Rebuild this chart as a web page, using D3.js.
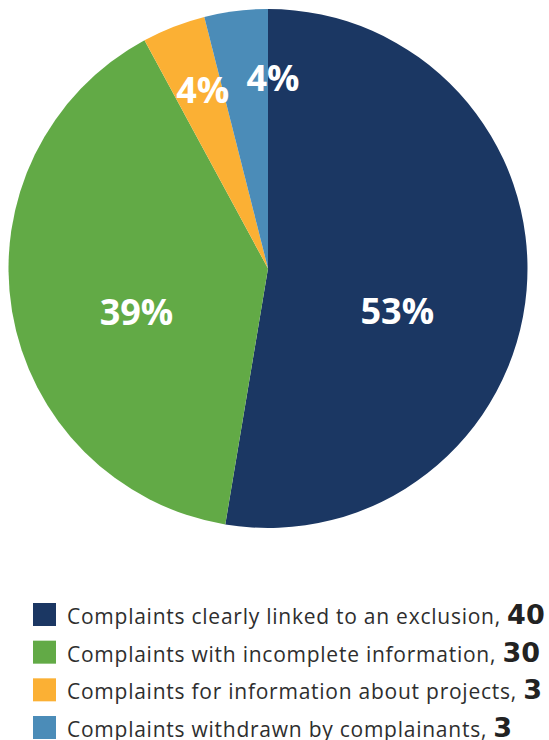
<!DOCTYPE html>
<html>
<head>
<meta charset="utf-8">
<script src="https://cdn.jsdelivr.net/npm/d3@7/dist/d3.min.js"></script>
<style>
  html, body { margin: 0; padding: 0; background: #fff; }
  svg { display: block; }
  .legend-text { font-family: "Open Sans", sans-serif; fill: #2e2e2e; letter-spacing: 0.75px; }
  .legend-num { font-family: "DejaVu Sans", sans-serif; font-weight: 700; fill: #222; letter-spacing: 0; }
  .pct { font-family: "Open Sans", sans-serif; font-weight: 700; fill: #fff; }
</style>
</head>
<body>
<svg id="chart" width="549" height="740"></svg>
<script>
// Complaint categories and counts
const categories = [
  "Complaints clearly linked to an exclusion",
  "Complaints with incomplete information",
  "Complaints for information about projects",
  "Complaints withdrawn by complainants"
];
const counts = [40, 30, 3, 3];
const percentLabels = ["53%", "39%", "4%", "4%"];
const colors = ["#1b3763", "#62aa46", "#fbb034", "#4b8cb8"];

// Label placement inside each slice: angle (deg, clockwise from 12 o'clock) and radius
const labelAngles = [108, 251.7, 340, 1.5];
const labelRadii = [136, 138.5, 191, 191];

const cx = 268, cy = 268.5, R = 259.5;

const svg = d3.select("#chart");
const g = svg.append("g").attr("transform", `translate(${cx},${cy})`);

const data = categories.map((c, i) => ({ name: c, value: counts[i], label: percentLabels[i], color: colors[i], i }));

const pie = d3.pie().value(d => d.value).sort(null);
const arc = d3.arc().innerRadius(0).outerRadius(R);

const arcs = pie(data);

g.selectAll("path.slice")
  .data(arcs)
  .join("path")
  .attr("class", "slice")
  .attr("d", arc)
  .attr("fill", d => d.data.color);

g.selectAll("text.pct")
  .data(arcs)
  .join("text")
  .attr("class", "pct")
  .attr("text-anchor", "middle")
  .attr("dominant-baseline", "central")
  .attr("font-size", 36)
  .attr("x", d => {
    const a = labelAngles[d.data.i] * Math.PI / 180;
    return Math.sin(a) * labelRadii[d.data.i];
  })
  .attr("y", d => {
    const a = labelAngles[d.data.i] * Math.PI / 180;
    return -Math.cos(a) * labelRadii[d.data.i];
  })
  .text(d => d.data.label);

// Legend
const legendY = d3.scalePoint()
  .domain(d3.range(categories.length))
  .range([603, 716]);

const lg = svg.append("g");
const rows = lg.selectAll("g.row")
  .data(data)
  .join("g")
  .attr("class", "row")
  .attr("transform", d => `translate(33,${legendY(d.i)})`);

rows.append("rect")
  .attr("width", 23)
  .attr("height", 23)
  .attr("fill", d => d.color);

const txt = rows.append("text")
  .attr("class", "legend-text")
  .attr("x", 34)
  .attr("y", 21)
  .attr("font-size", 21);

txt.append("tspan").text(d => d.name + ", ");
txt.append("tspan")
  .attr("class", "legend-num")
  .attr("font-size", 27)
  .text(d => d.value);
</script>
</body>
</html>
